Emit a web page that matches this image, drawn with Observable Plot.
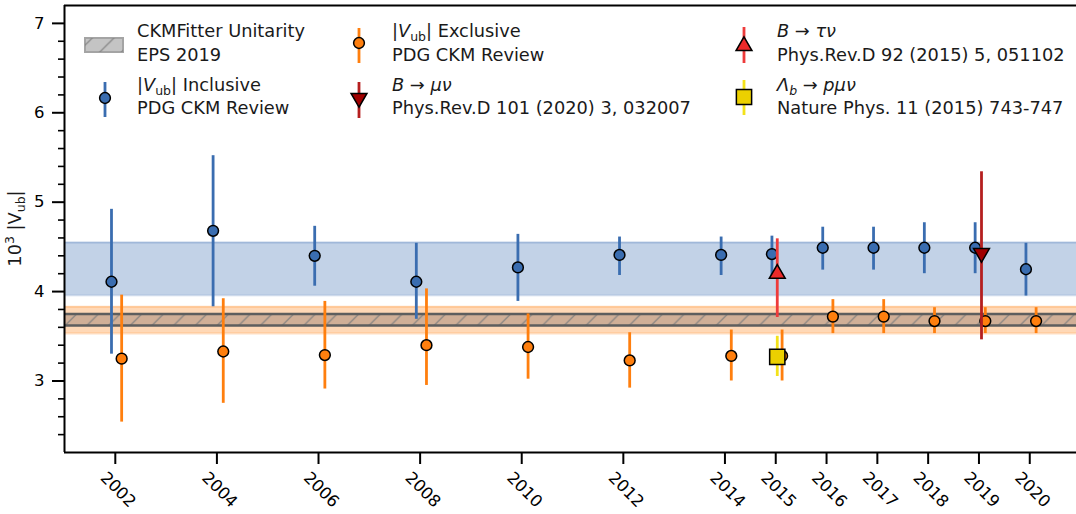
<!DOCTYPE html>
<html><head><meta charset="utf-8">
<script src="https://cdn.jsdelivr.net/npm/d3@7"></script>
<script src="https://cdn.jsdelivr.net/npm/@observablehq/plot@0.6"></script>
<style>html,body{margin:0;padding:0;background:#fff;overflow:hidden}</style>
</head><body><div id="chart"></div>
<script>
// ---- data ----
const years   = [2002, 2004, 2006, 2008, 2010, 2012, 2014, 2015, 2016, 2017, 2018, 2019, 2020];
const inclVal = [4.11, 4.68, 4.40, 4.11, 4.27, 4.41, 4.41, 4.42, 4.49, 4.49, 4.49, 4.49, 4.25];
const inclLo  = [3.30, 3.83, 4.06, 3.69, 3.89, 4.18, 4.18, 4.17, 4.24, 4.24, 4.20, 4.20, 3.95];
const inclHi  = [4.92, 5.52, 4.73, 4.54, 4.64, 4.61, 4.61, 4.62, 4.72, 4.72, 4.77, 4.77, 4.54];
const exclVal = [3.25, 3.33, 3.29, 3.40, 3.38, 3.23, 3.28, 3.28, 3.72, 3.72, 3.67, 3.67, 3.67];
const exclLo  = [2.54, 2.75, 2.91, 2.95, 3.02, 2.92, 3.00, 3.00, 3.53, 3.53, 3.53, 3.53, 3.53];
const exclHi  = [3.96, 3.92, 3.89, 4.03, 3.75, 3.54, 3.57, 3.57, 3.91, 3.91, 3.82, 3.82, 3.82];

const tauYear = [2015], tauVal = [4.20], tauLo = [3.71], tauHi = [4.59];
const muYear  = [2019], muVal  = [4.43], muLo  = [3.46], muHi  = [5.34];
const lbYear  = [2015], lbVal  = [3.27], lbLo  = [3.05], lbHi  = [3.50];

const bandNames = ["inclusive", "exclusive", "ckmfitter"];
const bandLo    = [3.96, 3.53, 3.62];
const bandHi    = [4.55, 3.83, 3.75];

const xTicks  = [2002, 2004, 2006, 2008, 2010, 2012, 2014, 2015, 2016, 2017, 2018, 2019, 2020];
const yMajor  = [3, 4, 5, 6, 7];
const yMinor  = [2.4, 2.6, 2.8, 3.2, 3.4, 3.6, 3.8, 4.2, 4.4, 4.6, 4.8, 5.2, 5.4, 5.6, 5.8, 6.2, 6.4, 6.6, 6.8];
const xDomain = [2001, 2020.92];
const yDomain = [2.2, 7.2];

// ---- styles ----
const BLUE = "#3a6db0", ORANGE = "#ff7f0e", RED = "#ec2a2a", REDBAR = "#ee3b3b",
      DARKRED = "#a00000", DARKREDBAR = "#b51f1f", YELLOW = "#ecd000", YELLOWBAR = "#f3e21a";
const HATCH_PLACEHOLDER = "#010203";

const rows = (xs, vs, los, his, off) => xs.map((x, i) => ({x: x + off, v: vs[i], lo: los[i], hi: his[i]}));
const incl = rows(years, inclVal, inclLo, inclHi, -0.075);
const excl = rows(years, exclVal, exclLo, exclHi, 0.125);
const tau  = rows(tauYear, tauVal, tauLo, tauHi, 0.03);
const mu   = rows(muYear, muVal, muLo, muHi, 0.05);
const lb   = rows(lbYear, lbVal, lbLo, lbHi, 0.03);
const bands = bandNames.map((n, i) => ({name: n, lo: bandLo[i], hi: bandHi[i]}));
const band = n => bands.filter(b => b.name === n);

const chart = Plot.plot({
  width: 1076, height: 514,
  marginLeft: 64, marginRight: 0, marginTop: 5, marginBottom: 62,
  x: {domain: xDomain, axis: null},
  y: {domain: yDomain, axis: null},
  style: {fontFamily: "DejaVu Sans", fontSize: "16px", background: "white", color: "black"},
  marks: [
    // bands
    Plot.rect(band("inclusive"), {y1: "lo", y2: "hi", fill: BLUE, fillOpacity: 0.31}),
    Plot.ruleY(band("inclusive"), {y: "lo", stroke: BLUE, strokeOpacity: 0.25, strokeWidth: 2}),
    Plot.ruleY(band("inclusive"), {y: "hi", stroke: BLUE, strokeOpacity: 0.25, strokeWidth: 2}),
    Plot.rect(band("exclusive"), {y1: "lo", y2: "hi", fill: ORANGE, fillOpacity: 0.3}),
    Plot.ruleY(band("exclusive"), {y: "lo", stroke: ORANGE, strokeOpacity: 0.25, strokeWidth: 2}),
    Plot.ruleY(band("exclusive"), {y: "hi", stroke: ORANGE, strokeOpacity: 0.25, strokeWidth: 2}),
    Plot.rect(band("ckmfitter"), {y1: "lo", y2: "hi", fill: "#74625a", fillOpacity: 0.34}),
    Plot.rect(band("ckmfitter"), {y1: "lo", y2: "hi", fill: HATCH_PLACEHOLDER}),
    Plot.ruleY(band("ckmfitter"), {y: "lo", stroke: "#5e5e5e", strokeWidth: 2.6}),
    Plot.ruleY(band("ckmfitter"), {y: "hi", stroke: "#5e5e5e", strokeWidth: 2.6}),
    // inclusive
    Plot.ruleX(incl, {x: "x", y1: "lo", y2: "hi", stroke: BLUE, strokeWidth: 2.8}),
    Plot.dot(incl, {x: "x", y: "v", r: 5.4, fill: BLUE, stroke: "black", strokeWidth: 1.5}),
    // exclusive
    Plot.ruleX(excl, {x: "x", y1: "lo", y2: "hi", stroke: ORANGE, strokeWidth: 2.8}),
    Plot.dot(excl, {x: "x", y: "v", r: 5.4, fill: ORANGE, stroke: "black", strokeWidth: 1.5}),
    // B -> tau nu
    Plot.ruleX(tau, {x: "x", y1: "lo", y2: "hi", stroke: REDBAR, strokeWidth: 2.8}),
    Plot.dot(tau, {x: "x", y: "v", r: 5.9, symbol: "triangle", fill: RED, stroke: "black", strokeWidth: 1.5}),
    // B -> mu nu
    Plot.ruleX(mu, {x: "x", y1: "lo", y2: "hi", stroke: DARKREDBAR, strokeWidth: 2.8}),
    Plot.dot(mu, {x: "x", y: "v", r: 5.9, symbol: "triangle", rotate: 180, fill: DARKRED, stroke: "black", strokeWidth: 1.5}),
    // Lambda_b -> p mu nu
    Plot.ruleX(lb, {x: "x", y1: "lo", y2: "hi", stroke: YELLOWBAR, strokeWidth: 2.8}),
    Plot.dot(lb, {x: "x", y: "v", r: 8.6, symbol: "square", fill: YELLOW, stroke: "black", strokeWidth: 1.5}),
    // axes
    Plot.axisY({ticks: yMajor, tickSize: 12, tickPadding: 8, strokeWidth: 2, fontSize: 16.5,
                tickFormat: d => String(d), label: null}),
    Plot.axisY({ticks: yMinor, tickSize: 6, tickFormat: () => "", strokeWidth: 1.6, label: null}),
    Plot.axisX({ticks: xTicks, tickSize: 12, tickFormat: () => "", strokeWidth: 2, label: null}),
    Plot.text(xTicks, {x: d => d, text: d => String(d), frameAnchor: "bottom", dy: 41, dx: -1,
                       rotate: 45, textAnchor: "middle", fontSize: 16.5, fill: "black"}),
    // spines
    Plot.ruleY([yDomain[0], yDomain[1]], {stroke: "black", strokeWidth: 2}),
    Plot.ruleX([xDomain[0]], {stroke: "black", strokeWidth: 2})
  ]
});
document.getElementById("chart").appendChild(chart);

// ---- hatch pattern & decorations ----
const svg = d3.select(chart);
const defs = svg.insert("defs", ":first-child");
const pat = defs.append("pattern").attr("id", "hatch").attr("patternUnits", "userSpaceOnUse")
  .attr("width", 21.7).attr("height", 21.7);
pat.append("path").attr("d", "M-2,23.7 L23.7,-2 M-2,2 L2,-2 M19.7,23.7 L23.7,19.7")
  .attr("stroke", "#7d7d7d").attr("stroke-width", 1.2).attr("fill", "none");
svg.selectAll("[fill]").each(function() {
  if ((this.getAttribute("fill") || "").toLowerCase() === HATCH_PLACEHOLDER) this.setAttribute("fill", "url(#hatch)");
});

// y-axis label
const yl = svg.append("text").attr("transform", "translate(21,228.5) rotate(-90)")
  .attr("text-anchor", "middle").attr("font-family", "DejaVu Sans").attr("font-size", 17.8).attr("fill", "#1a1a1a");
yl.append("tspan").text("10");
yl.append("tspan").text("3").attr("font-size", 12.5).attr("dy", -7);
yl.append("tspan").text(" |V").attr("dy", 7);
yl.append("tspan").text("ub").attr("font-size", 12.5).attr("dy", 3.5);
yl.append("tspan").text("|").attr("dy", -3.5);

// legend
const leg = svg.append("g").attr("font-family", "DejaVu Sans").attr("font-size", 17.8)
  .attr("fill", "#1a1a1a").attr("text-anchor", "start");
function line(x, y, segs) {
  const t = leg.append("text").attr("x", x).attr("y", y).attr("text-anchor", "start");
  segs.forEach(s => {
    const ts = t.append("tspan").text(s.t);
    if (s.i) ts.attr("font-style", "italic");
    if (s.fs) ts.attr("font-size", s.fs);
    if (s.dy) ts.attr("dy", s.dy);
  });
}
function marker(x, y, y1, y2, barColor, sym, r, fill, rot) {
  leg.append("line").attr("x1", x).attr("x2", x).attr("y1", y1).attr("y2", y2)
    .attr("stroke", barColor).attr("stroke-width", 2.8);
  if (sym === "circle") {
    leg.append("circle").attr("cx", x).attr("cy", y).attr("r", r)
      .attr("fill", fill).attr("stroke", "black").attr("stroke-width", 1.5);
  } else {
    const p = d3.symbol(sym === "square" ? d3.symbolSquare : d3.symbolTriangle, r * r * Math.PI)();
    leg.append("path").attr("d", p).attr("transform", `translate(${x},${y}) rotate(${rot || 0})`)
      .attr("fill", fill).attr("stroke", "black").attr("stroke-width", 1.5);
  }
}
// column 1
leg.append("rect").attr("x", 85).attr("y", 38).attr("width", 38).attr("height", 14)
  .attr("fill", "#c4c4c4").attr("stroke", "#a4a4a4").attr("stroke-width", 2);
leg.append("rect").attr("x", 85).attr("y", 38).attr("width", 38).attr("height", 14)
  .attr("fill", "url(#hatch)").attr("stroke", "none");
line(137, 37, [{t: "CKMFitter Unitarity"}]);
line(137, 60.5, [{t: "EPS 2019"}]);
marker(105, 98, 82, 117, BLUE, "circle", 5.4, BLUE);
line(137, 91, [{t: "|"}, {t: "V", i: true}, {t: "ub", fs: 12.5, dy: 4}, {t: "| Inclusive", dy: -4}]);
line(137, 114, [{t: "PDG CKM Review"}]);
// column 2
marker(359, 43, 28, 63, ORANGE, "circle", 5.4, ORANGE);
line(392, 37, [{t: "|"}, {t: "V", i: true}, {t: "ub", fs: 12.5, dy: 4}, {t: "| Exclusive", dy: -4}]);
line(392, 60.5, [{t: "PDG CKM Review"}]);
marker(359, 98, 82, 118, DARKREDBAR, "triangle", 5.9, DARKRED, 180);
line(392, 91, [{t: "B", i: true}, {t: " → "}, {t: "μν", i: true}]);
line(392, 114, [{t: "Phys.Rev.D 101 (2020) 3, 032007"}]);
// column 3
marker(744, 46, 27, 63, REDBAR, "triangle", 5.9, RED, 0);
line(777, 37, [{t: "B", i: true}, {t: " → "}, {t: "τν", i: true}]);
line(777, 60.5, [{t: "Phys.Rev.D 92 (2015) 5, 051102"}]);
marker(744, 97, 80, 115, YELLOWBAR, "square", 8.6, YELLOW, 0);
line(777, 91, [{t: "Λ", i: true}, {t: "b", i: true, fs: 12.5, dy: 4}, {t: " → ", dy: -4}, {t: "pμν", i: true}]);
line(777, 114, [{t: "Nature Phys. 11 (2015) 743-747"}]);
</script></body></html>
